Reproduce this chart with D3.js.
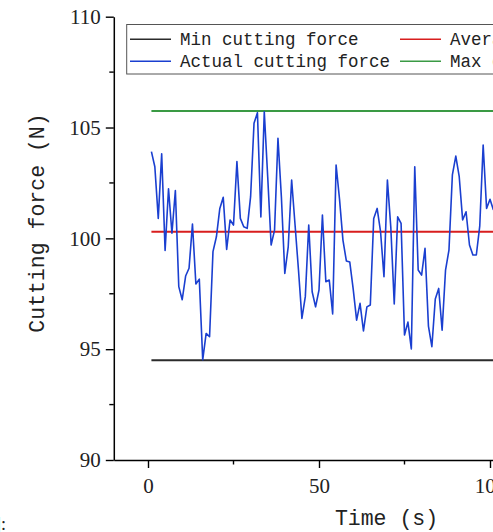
<!DOCTYPE html>
<html>
<head>
<meta charset="utf-8">
<script src="https://cdn.jsdelivr.net/npm/d3@7"></script>
<style>
  html, body { margin: 0; padding: 0; background: #fff; }
  svg { display: block; overflow: hidden; }
</style>
</head>
<body>
<svg id="chart" width="493" height="532"></svg>
<script>
// Sampling times (s)
const times = [1,2,3,4,5,6,7,8,9,10,11,12,13,14,15,16,17,18,19,20,
  21,22,23,24,25,26,27,28,29,30,31,32,33,34,35,36,37,38,39,40,
  41,42,43,44,45,46,47,48,49,50,51,52,53,54,55,56,57,58,59,60,
  61,62,63,64,65,66,67,68,69,70,71,72,73,74,75,76,77,78,79,80,
  81,82,83,84,85,86,87,88,89,90,91,92,93,94,95,96,97,98,99,100,101];

// Measured cutting force (N)
const actualForce = [103.91,103.23,100.90,103.81,99.45,102.24,100.23,102.16,97.82,97.23,
  98.30,98.65,100.65,97.94,98.16,94.52,95.71,95.56,99.40,100.07,
  101.35,101.85,99.50,100.83,100.60,103.46,100.90,100.52,100.45,101.88,
  105.19,105.67,100.97,105.71,102.78,99.70,100.37,104.51,101.88,98.42,
  99.62,102.63,100.60,98.57,96.39,97.37,100.60,97.59,96.91,97.67,
  101.05,98.04,98.12,96.59,103.31,101.77,99.92,98.98,98.93,97.71,
  96.31,97.07,95.82,96.91,96.99,100.90,101.35,100.30,98.27,102.63,
  100.49,97.04,100.97,100.68,95.64,96.22,95.01,103.23,98.57,98.34,
  99.55,96.04,95.11,97.26,97.74,95.86,98.57,99.47,102.86,103.71,
  102.78,100.83,101.20,99.70,99.25,99.25,100.55,104.21,101.35,101.76,101.28];

// Reference levels (N)
const minForce = 94.5;
const avgForce = 100.3;
const maxForce = 105.75;

// Axis ticks
const yMajorTicks = [90, 95, 100, 105, 110];
const yMinorTicks = [92.5, 97.5, 102.5, 107.5];
const xMajorTicks = [0, 50, 100];
const xMinorTicks = [25, 75, 125];

const legendItems = [
  { label: "Min cutting force", color: "#2b2b2b", col: 0, row: 0 },
  { label: "Actual cutting force", color: "#1a3fd0", col: 0, row: 1 },
  { label: "Average cutting force", color: "#d81e1e", col: 1, row: 0 },
  { label: "Max cutting force", color: "#3a9a44", col: 1, row: 1 }
];

const svg = d3.select("#chart");

const x = d3.scaleLinear().domain([-10, 140]).range([113.8, 626.8]);
const y = d3.scaleLinear().domain([90, 110]).range([460, 16.7]);

const monoFont = "'Liberation Mono', 'DejaVu Sans Mono', monospace";
const serifFont = "'Liberation Serif', 'DejaVu Serif', serif";

// Reference lines
const levels = [
  { v: minForce, color: "#2b2b2b" },
  { v: avgForce, color: "#d81e1e" },
  { v: maxForce, color: "#3a9a44" }
];
svg.append("g").selectAll("line").data(levels).join("line")
  .attr("x1", x(times[0])).attr("x2", x(times[times.length - 1]))
  .attr("y1", d => y(d.v)).attr("y2", d => y(d.v))
  .attr("stroke", d => d.color).attr("stroke-width", 2);

// Actual force trace
const series = times.map((t, i) => [t, actualForce[i]]);
svg.append("path")
  .datum(series)
  .attr("fill", "none")
  .attr("stroke", "#1a3fd0")
  .attr("stroke-width", 1.6)
  .attr("stroke-linejoin", "round")
  .attr("d", d3.line().x(d => x(d[0])).y(d => y(d[1])));

// Y axis
const yAxis = svg.append("g").attr("transform", `translate(${x(-10)},0)`);
yAxis.call(d3.axisLeft(y).tickValues(yMajorTicks).tickSize(8).tickPadding(5).tickSizeOuter(0));
yAxis.append("g").selectAll("line").data(yMinorTicks).join("line")
  .attr("x1", -4.5).attr("x2", 0)
  .attr("y1", d => y(d)).attr("y2", d => y(d))
  .attr("stroke", "#000").attr("stroke-width", 1.4);

// X axis
const xAxis = svg.append("g").attr("transform", `translate(0,${y(90)})`);
xAxis.call(d3.axisBottom(x).tickValues(xMajorTicks).tickSize(8).tickPadding(10).tickSizeOuter(0));
xAxis.append("g").selectAll("line").data(xMinorTicks).join("line")
  .attr("x1", d => x(d)).attr("x2", d => x(d))
  .attr("y1", 0).attr("y2", 4.5)
  .attr("stroke", "#000").attr("stroke-width", 1.4);

svg.selectAll(".domain").attr("stroke", "#000").attr("stroke-width", 1.5);
svg.selectAll(".tick line").attr("stroke", "#000").attr("stroke-width", 1.4);
svg.selectAll(".tick text")
  .attr("font-family", serifFont).attr("font-size", 21).attr("fill", "#222");

// Axis titles
svg.append("text")
  .attr("transform", "translate(44,223) rotate(-90)")
  .attr("text-anchor", "middle")
  .attr("font-family", monoFont).attr("font-size", 21.5).attr("fill", "#222")
  .text("Cutting force (N)");

svg.append("text")
  .attr("x", 386.5).attr("y", 525)
  .attr("text-anchor", "middle")
  .attr("font-family", monoFont).attr("font-size", 21.5).attr("fill", "#222")
  .text("Time (s)");

// Legend
const legend = svg.append("g");
legend.append("rect")
  .attr("x", 126.7).attr("y", 24.5).attr("width", 500).attr("height", 49.5)
  .attr("fill", "#fff").attr("stroke", "#555").attr("stroke-width", 1);
const colX = [130, 400];
const rowY = [39.3, 61.3];
const entry = legend.selectAll("g.entry").data(legendItems).join("g").attr("class", "entry");
entry.append("line")
  .attr("x1", d => colX[d.col]).attr("x2", d => colX[d.col] + 41)
  .attr("y1", d => rowY[d.row]).attr("y2", d => rowY[d.row])
  .attr("stroke", d => d.color).attr("stroke-width", 1.5);
entry.append("text")
  .attr("x", d => colX[d.col] + 50).attr("y", d => rowY[d.row] + 6)
  .attr("font-family", monoFont).attr("font-size", 17.5).attr("fill", "#222")
  .text(d => d.label);

// Caption fragment at the lower-left edge
svg.append("text")
  .attr("x", -5).attr("y", 530)
  .attr("font-family", serifFont).attr("font-size", 18).attr("fill", "#222")
  .text("]:");
</script>
</body>
</html>
